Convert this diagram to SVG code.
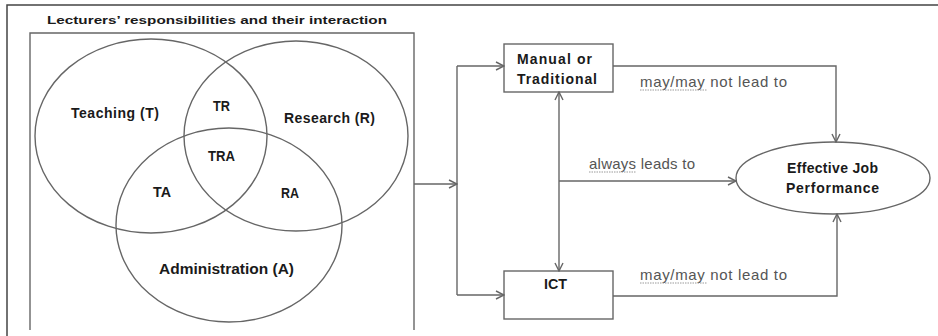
<svg xmlns="http://www.w3.org/2000/svg" width="938" height="336" viewBox="0 0 938 336">
<style>
.ln{fill:none;stroke:#666;stroke-width:1.4}
.frame{fill:none;stroke:#444;stroke-width:1.5}
.b{font-family:"Liberation Sans",Arial,sans-serif;font-weight:bold;font-size:14px;fill:#1a1a1a}
.t{font-family:"Liberation Sans",Arial,sans-serif;font-weight:bold;font-size:11.5px;fill:#1a1a1a}
.lbl{font-family:"Liberation Sans",Arial,sans-serif;font-size:15px;fill:#555}
.ul{stroke:#9a9a9a;stroke-width:1;stroke-dasharray:1.5,1}
</style>
<defs>
<marker id="ah" viewBox="0 0 10 10" refX="9" refY="5" markerWidth="10" markerHeight="10" markerUnits="userSpaceOnUse" orient="auto-start-reverse">
<path d="M1,1 L9,5 L1,9" fill="none" stroke="#666" stroke-width="1.4"/>
</marker>
</defs>
<rect width="938" height="336" fill="#fff"/>
<path class="frame" d="M7,336 V5 H938"/>
<text class="t" x="47" y="24" textLength="340" lengthAdjust="spacingAndGlyphs">Lecturers’ responsibilities and their interaction</text>
<g id="venn">
<path class="ln" d="M30,330 V33 H414 V330"/>
<g id="teaching"><ellipse class="ln" cx="151" cy="136" rx="116" ry="97"/><text class="b" x="71" y="118" textLength="88">Teaching (T)</text></g>
<g id="research"><ellipse class="ln" cx="296" cy="136" rx="112" ry="95"/><text class="b" x="284" y="123" textLength="91">Research (R)</text></g>
<g id="administration"><ellipse class="ln" cx="229" cy="225" rx="113" ry="97"/><text class="b" x="159" y="274" textLength="135" lengthAdjust="spacingAndGlyphs">Administration (A)</text></g>
<text class="b" x="213" y="111" textLength="17" lengthAdjust="spacingAndGlyphs">TR</text>
<text class="b" x="208" y="161" textLength="27" lengthAdjust="spacingAndGlyphs">TRA</text>
<text class="b" x="153" y="197" textLength="18" lengthAdjust="spacingAndGlyphs">TA</text>
<text class="b" x="281" y="198" textLength="18" lengthAdjust="spacingAndGlyphs">RA</text>
</g>
<g id="manual"><rect class="ln" x="504" y="44" width="109" height="48"/><text class="b" x="517" y="64" textLength="75">Manual or</text><text class="b" x="517" y="84" textLength="80">Traditional</text></g>
<g id="ict"><rect class="ln" x="504" y="271" width="109" height="48"/><text class="b" x="544" y="289" textLength="23" lengthAdjust="spacingAndGlyphs">ICT</text></g>
<g id="performance"><ellipse class="ln" cx="833" cy="178" rx="97" ry="36"/><text class="b" x="787" y="173" textLength="91">Effective Job</text><text class="b" x="786" y="193" textLength="93">Performance</text></g>
<g id="connectors">
<path class="ln" d="M414,184 H457" marker-end="url(#ah)"/>
<path class="ln" d="M457,66 V295"/>
<path class="ln" d="M457,66 H504" marker-end="url(#ah)"/>
<path class="ln" d="M457,295 H504" marker-end="url(#ah)"/>
<path class="ln" d="M559,92 V271" marker-start="url(#ah)" marker-end="url(#ah)"/>
<path class="ln" d="M559,181 H736" marker-end="url(#ah)"/>
<path class="ln" d="M613,66 H836 V142" marker-end="url(#ah)"/>
<path class="ln" d="M613,296 H837 V214" marker-end="url(#ah)"/>
<text class="lbl" x="640" y="87" textLength="147">may/may not lead to</text>
<line class="ul" x1="640" y1="90" x2="707" y2="90"/>
<text class="lbl" x="589" y="169" textLength="106">always leads to</text>
<line class="ul" x1="589" y1="172" x2="636" y2="172"/>
<text class="lbl" x="640" y="280" textLength="147">may/may not lead to</text>
<line class="ul" x1="640" y1="283" x2="707" y2="283"/>
</g>
</svg>
